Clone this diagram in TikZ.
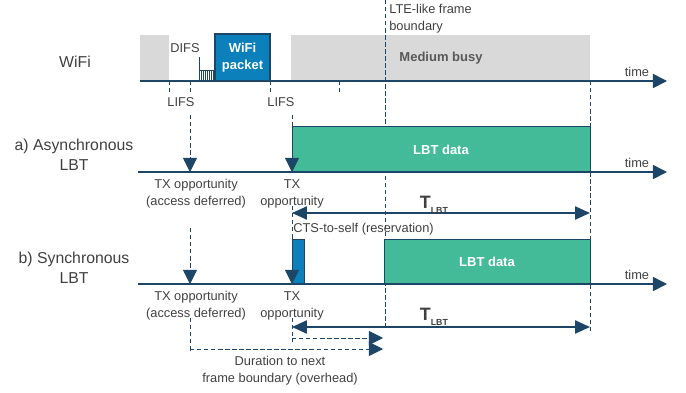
\documentclass[tikz,border=0pt]{standalone}
\usepackage{fontspec}
\setmainfont{Liberation Sans}
\usetikzlibrary{arrows.meta}

\definecolor{lbtblue}{RGB}{28,69,103}
\definecolor{lbtgreen}{RGB}{67,187,152}
\definecolor{wifiblue}{RGB}{11,128,186}
\definecolor{busygray}{RGB}{217,217,217}
\definecolor{txtgray}{RGB}{64,64,64}
\definecolor{busytxt}{RGB}{89,89,89}

\newcommand{\tlbt}{{\bfseries\fontsize{10.2pt}{12pt}\selectfont T}\raisebox{-2.6pt}{\bfseries\fontsize{5pt}{6pt}\selectfont LBT}}

\tikzset{
  timeline/.style={lbtblue, line width=0.9pt, -{Triangle[length=8pt,width=8pt]}},
  dashline/.style={lbtblue, line width=0.5pt, dash pattern=on 2.5pt off 1.5pt},
  downarrow/.style={dashline, -{Triangle[length=8pt,width=8pt]}},
  lbtspan/.style={lbtblue, line width=0.9pt, {Triangle[length=8.5pt,width=7.5pt]}-{Triangle[length=8.5pt,width=7.5pt]}},
  lbl/.style={text=txtgray, font=\fontsize{7.3pt}{9.6pt}\selectfont, align=center, inner sep=0pt},
  rowlbl/.style={text=txtgray, font=\fontsize{9pt}{11.3pt}\selectfont, align=center, inner sep=0pt},
  boxtxt/.style={text=white, font=\fontsize{7.4pt}{9.6pt}\selectfont\bfseries, align=center, inner sep=0pt},
}

\begin{document}
\begin{tikzpicture}[x=0.02cm,y=-0.02cm]
\useasboundingbox (0,0) rectangle (686,392);

% 时间轴端点
\coordinate (W0) at (140,81);
\coordinate (W1) at (667,81);
\coordinate (A0) at (138,172);
\coordinate (A1) at (667,172);
\coordinate (S0) at (138,284);
\coordinate (S1) at (667,284);

% WiFi 行
\fill[busygray] (140,35) rectangle (169,81);
\fill[busygray] (291,35) rectangle (590,81);
\draw[fill=wifiblue, draw=lbtblue, line width=0.6pt] (215,34) rectangle (270,81);
\draw[lbtblue, line width=0.5pt] (199,57) -- (199,81);
\draw[lbtblue, line width=0.4pt] (199,70) rectangle (215,81);
\foreach \x in {201,203,...,213}
  \draw[lbtblue, line width=0.4pt] (\x,70) -- (\x,81);
\draw[timeline] (W0) -- (W1);

% 帧边界与虚线
\draw[dashline] (385,0) -- (385,327);
\draw[dashline] (590,81) -- (590,333);
\foreach \x in {169,190,270,339}
  \draw[dashline] (\x,81) -- (\x,93);

% a) 异步
\draw[fill=lbtgreen, draw=lbtblue, line width=0.4pt] (292,126) rectangle (590,172);
\draw[timeline] (A0) -- (A1);
\draw[downarrow] (190,115) -- (190,172);
\draw[downarrow] (292,115) -- (292,172);
\draw[lbtspan] (292,213) -- (590,213);

% b) 同步
\draw[fill=wifiblue, draw=lbtblue, line width=0.4pt] (292,239) rectangle (304,284);
\draw[fill=lbtgreen, draw=lbtblue, line width=0.4pt] (384,239) rectangle (590,284);
\draw[timeline] (S0) -- (S1);
\draw[downarrow] (190,228) -- (190,284);
\draw[downarrow] (292,206) -- (292,284);
\draw[dashline] (292,318) -- (292,342);
\draw[dashline] (190,318) -- (190,353);
\draw[lbtspan] (292,327) -- (590,327);
\draw[downarrow] (292,338) -- (383,338);
\draw[downarrow] (190,349) -- (383,349);

% 文字
\node[rowlbl] (wifi) at (75,62) {WiFi};
\node[rowlbl] (asyn) at (74,155) {a) Asynchronous\\LBT};
\node[rowlbl] (syn) at (74,268) {b) Synchronous\\LBT};
\node[lbl] (difs) at (185,48) {DIFS};
\node[lbl] (lifsA) at (181,102) {LIFS};
\node[lbl] (lifsB) at (281,102) {LIFS};
\node[boxtxt] (pkt) at (242.5,58) {WiFi\\packet};
\node[boxtxt, text=busytxt] (busy) at (441,58) {Medium busy};
\node[lbl, align=left, anchor=west] (lte) at (389,18.5) {LTE-like frame\\boundary};
\node[lbl] (timeW) at (637,72) {time};
\node[lbl] (timeA) at (637,163) {time};
\node[lbl] (timeS) at (637,275) {time};
\node[boxtxt] (dataA) at (441,150) {LBT data};
\node[boxtxt] (dataS) at (487,262) {LBT data};
\node[lbl] (txdA) at (196,193.5) {TX opportunity\\(access deferred)};
\node[lbl] (txA) at (292,193.5) {TX\\opportunity};
\node[lbl] (txdS) at (196,305.5) {TX opportunity\\(access deferred)};
\node[lbl] (txS) at (292,305.5) {TX\\opportunity};
\node[lbl, anchor=west] (cts) at (293,229) {CTS-to-self (reservation)};
\node[text=txtgray, inner sep=0pt, anchor=base west] (tA) at (419.5,208.5) {\tlbt};
\node[text=txtgray, inner sep=0pt, anchor=base west] (tS) at (419.5,320.5) {\tlbt};
\node[lbl] (dur) at (280,370.5) {Duration to next\\frame boundary (overhead)};
\end{tikzpicture}
\end{document}
